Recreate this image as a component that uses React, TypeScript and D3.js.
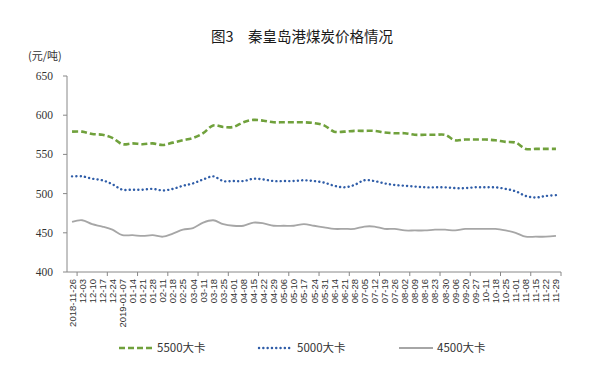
import React from 'react';
import * as d3 from 'd3';

const dates = [
  '2018-11-26', '12-03', '12-10', '12-17', '12-24', '2019-01-07', '01-14', '01-21', '01-28',
  '02-11', '02-18', '02-25', '03-04', '03-11', '03-18', '03-25', '04-01', '04-08', '04-15',
  '04-22', '04-29', '05-06', '05-10', '05-17', '05-24', '05-31', '06-14', '06-21', '06-28',
  '07-05', '07-12', '07-19', '07-26', '08-02', '08-09', '08-16', '08-23', '08-30', '09-06',
  '09-20', '09-27', '10-11', '10-18', '10-25', '11-01', '11-08', '11-15', '11-22', '11-29',
];

const kcal5500 = [
  579, 579, 576, 575, 571, 563, 564, 563, 564, 562, 565, 568, 571, 577, 587, 585, 585,
  591, 594, 593, 591, 591, 591, 591, 590, 587, 579, 579, 580, 580, 580, 578, 577, 577,
  575, 575, 575, 575, 568, 569, 569, 569, 568, 566, 565, 557, 557, 557, 557,
];

const kcal5000 = [
  522, 522, 519, 517, 512, 505, 505, 505, 506, 504, 506, 510, 513, 518, 522, 516, 516,
  516, 519, 518, 516, 516, 516, 517, 516, 514, 510, 508, 511, 517, 516, 513, 511, 510,
  509, 508, 508, 508, 507, 507, 508, 508, 508, 506, 503, 497, 495, 497, 498,
];

const kcal4500 = [
  464, 466, 461, 458, 454, 447, 447, 446, 447, 445, 449, 454, 456, 463, 466, 461, 459,
  459, 463, 462, 459, 459, 459, 461, 459, 457, 455, 455, 455, 458, 458, 455, 455, 453,
  453, 453, 454, 454, 453, 455, 455, 455, 455, 453, 450, 445, 445, 445, 446,
];

const yTicks = [400, 450, 500, 550, 600, 650];

const series = [
  { name: '5500大卡', values: kcal5500, color: '#70a13c', dash: '6,3', width: 2.6, cap: 'butt' },
  { name: '5000大卡', values: kcal5000, color: '#2f5da8', dash: '0.1,4.2', width: 2.4, cap: 'round' },
  { name: '4500大卡', values: kcal4500, color: '#a6a6a6', dash: null, width: 1.8, cap: 'butt' },
];

export default function App() {
  const left = 67, right = 561, top = 76, bottom = 272;

  const x = d3.scaleBand<string>().domain(dates).range([left, right]).padding(0);
  const y = d3.scaleLinear().domain([400, 650]).range([bottom, top]);
  const cx = (d: string) => (x(d) as number) + x.bandwidth() / 2;

  const line = d3.line<number>()
    .x((_, i) => cx(dates[i]))
    .y(v => y(v))
    .curve(d3.curveCatmullRom.alpha(0.5));

  // tick marks every 3 categories, starting after the first one
  const tickIdx = d3.range(1, dates.length + 1, 3);

  const legendX = [119, 259, 399];

  return (
    <svg width={603} height={392} style={{ position: 'absolute', left: 0, top: 0, background: '#fff' }}>
      <text x={302} y={42} textAnchor="middle" fontSize={14.5} fill="#1a1a1a"
        fontFamily="'Noto Sans CJK SC', sans-serif">图3　秦皇岛港煤炭价格情况</text>
      <text x={28} y={60} fontSize={11} fill="#333" fontFamily="'Noto Sans CJK SC', sans-serif">(元/吨)</text>

      {yTicks.map(t => (
        <g key={t}>
          <line x1={left - 4} x2={left} y1={y(t)} y2={y(t)} stroke="#888" />
          <text x={53} y={y(t) + 4} textAnchor="end" fontSize={11.5} fill="#333"
            fontFamily="'Liberation Serif', serif">{t}</text>
        </g>
      ))}
      <line x1={left} x2={left} y1={top} y2={bottom} stroke="#888" />
      <line x1={left} x2={right} y1={bottom} y2={bottom} stroke="#888" />
      {tickIdx.map(k => {
        const xx = left + k * x.bandwidth();
        return <line key={k} x1={xx} x2={xx} y1={bottom} y2={bottom + 4} stroke="#888" />;
      })}
      {dates.map(d => (
        <text key={d} transform={`translate(${cx(d) + 3.5},${bottom + 7}) rotate(-90)`}
          textAnchor="end" fontSize={9.5} fill="#333" fontFamily="'Liberation Sans', sans-serif">{d}</text>
      ))}

      {series.map(s => (
        <path key={s.name} d={line(s.values) || ''} fill="none" stroke={s.color}
          strokeWidth={s.width} strokeDasharray={s.dash || undefined} strokeLinecap={s.cap as any} />
      ))}

      {series.map((s, i) => (
        <g key={s.name}>
          <line x1={legendX[i]} x2={legendX[i] + 34} y1={348} y2={348} stroke={s.color}
            strokeWidth={s.width} strokeDasharray={s.dash || undefined} strokeLinecap={s.cap as any} />
          <text x={legendX[i] + 38} y={352} fontSize={11.5} fill="#333"
            fontFamily="'Noto Sans CJK SC', sans-serif">{s.name}</text>
        </g>
      ))}
    </svg>
  );
}
